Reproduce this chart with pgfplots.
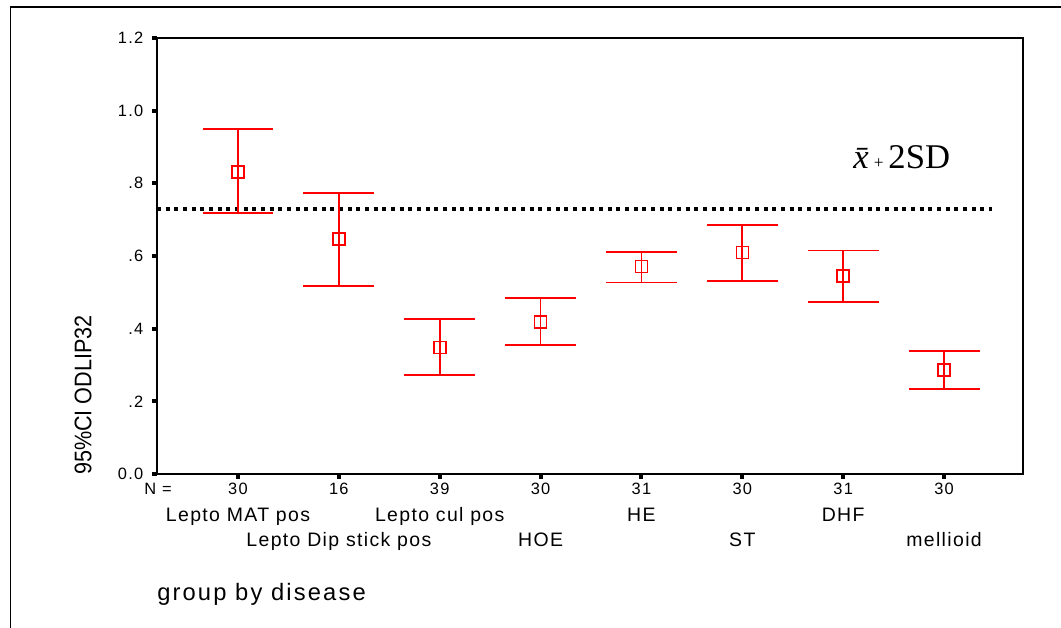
\documentclass[border=0pt]{standalone}
\usepackage{pgfplots}
\pgfplotsset{compat=1.18}
\usepackage{fontspec}
\setmainfont{Liberation Sans}
\newfontfamily\tickfont[LetterSpace=8]{Liberation Sans}
\newfontfamily\catfont[LetterSpace=7]{Liberation Sans}
\newfontfamily\titfont[LetterSpace=9]{Liberation Sans}
\newfontfamily\ylabfont[FakeStretch=0.9]{Liberation Sans}
\newfontfamily\serif{Liberation Serif}
\definecolor{spssred}{RGB}{255,0,0}

\begin{document}
\begin{tikzpicture}
% page = 1061 x 628 px, 1px = 0.75pt
\useasboundingbox (0,0) rectangle (795.75pt,-471pt);
\begin{axis}[
    at={(117.75pt,-355.5pt)}, anchor=south west,
    scale only axis, width=649.5pt, height=327pt,
    xmin=0.197, xmax=8.783, ymin=0, ymax=1.2,
    axis line style={line width=1.1pt},
    xtick={1,2,3,4,5,6,7,8},
    xticklabels={30,16,39,30,31,30,31,30},
    ytick={0,0.2,0.4,0.6,0.8,1.0,1.2},
    yticklabels={0.0,.2,.4,.6,.8,1.0,1.2},
    xtick pos=bottom, ytick pos=left,
    tick align=outside, major tick length=3.75pt,
    tick style={line width=3pt, black},
    ticklabel style={font=\tickfont\fontsize{12.3pt}{14pt}\selectfont},
    xticklabel style={anchor=base, yshift=-11.25pt},
    yticklabel style={xshift=-3pt},
    clip=false,
]
% upper reference line (mean + 2SD)
\addplot[black, line width=2.6pt, dash pattern=on 3pt off 3.5pt]
    coordinates {(0.197,0.730) (8.475,0.730)};

% group means with 95% CI
\addplot[only marks, mark=square, mark size=4.5pt, color=spssred,
    mark options={fill=none, solid, line width=1.2pt},
    error bars/.cd, y dir=both, y explicit,
    error bar style={line width=1.3pt, spssred},
    error mark options={rotate=90, spssred, line width=1.3pt, mark size=26.6pt}]
    coordinates {
    (1,0.831) += (0,0.119) -= (0,0.113)
    (2,0.647) += (0,0.126) -= (0,0.130)
    (3,0.348) += (0,0.079) -= (0,0.076)
    (4,0.418) += (0,0.066) -= (0,0.062)
    (5,0.571) += (0,0.040) -= (0,0.044)
    (6,0.610) += (0,0.075) -= (0,0.079)
    (7,0.545) += (0,0.070) -= (0,0.071)
    (8,0.286) += (0,0.053) -= (0,0.052)
    };

\draw[line width=2.2pt] (rel axis cs:0,0) -- (rel axis cs:0,1);
\draw[line width=1.6pt] (rel axis cs:0,0) -- (rel axis cs:1,0);

% category names, two staggered rows
\begin{scope}[every node/.style={anchor=base, font=\catfont\fontsize{14.6pt}{16pt}\selectfont}]
\node[yshift=-35.25pt] at (axis cs:1,0) {Lepto MAT pos};
\node[yshift=-35.25pt] at (axis cs:3,0) {Lepto cul pos};
\node[yshift=-35.25pt] at (axis cs:5,0) {HE};
\node[yshift=-35.25pt] at (axis cs:7,0) {DHF};
\node[yshift=-54pt] at (axis cs:2,0) {Lepto Dip stick pos};
\node[yshift=-54pt] at (axis cs:4,0) {HOE};
\node[yshift=-54pt] at (axis cs:6,0) {ST};
\node[yshift=-54pt] at (axis cs:8,0) {mellioid};
\end{scope}
\end{axis}

\begin{scope}[x=0.75pt, y=-0.75pt]
\draw[line width=1.1pt] (10.5,640) -- (10.5,7) -- (1070,7);
\node[anchor=base, inner sep=0, font=\tickfont\fontsize{12.3pt}{14pt}\selectfont] at (158,494) {N =};
\node[anchor=base west, inner sep=0, font=\titfont\fontsize{17.8pt}{20pt}\selectfont] at (157,600) {group by disease};
\node[rotate=90, inner sep=0, font=\ylabfont\fontsize{18pt}{20pt}\selectfont] at (83,395) {95\%CI ODLIP32};
\node[anchor=base west, inner sep=0, font=\serif\fontsize{26pt}{30pt}\selectfont] at (853,168)
    {{\itshape \={x}}\kern4pt{\fontsize{13pt}{15pt}\selectfont +}\kern3.5pt2SD};
\end{scope}
\end{tikzpicture}
\end{document}
